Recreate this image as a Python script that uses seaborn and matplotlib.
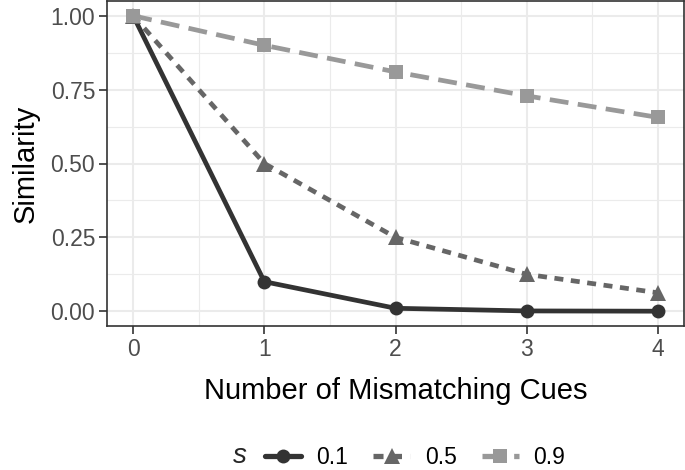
import numpy as np
import pandas as pd
import matplotlib
matplotlib.use("Agg")
import matplotlib.pyplot as plt
import seaborn as sns
from matplotlib.ticker import MultipleLocator

# ---- data ----
mismatches = [0, 1, 2, 3, 4]
s_levels = ["0.1", "0.5", "0.9"]
sim_01 = [1.0, 0.10, 0.01, 0.001, 0.0001]
sim_05 = [1.0, 0.50, 0.25, 0.125, 0.0625]
sim_09 = [1.0, 0.90, 0.81, 0.729, 0.6561]
x_ticks = [0, 1, 2, 3, 4]
y_ticks = [0.00, 0.25, 0.50, 0.75, 1.00]
y_tick_labels = ["0.00", "0.25", "0.50", "0.75", "1.00"]

df = pd.DataFrame({
    "k": mismatches * 3,
    "sim": sim_01 + sim_05 + sim_09,
    "s": [s_levels[0]] * 5 + [s_levels[1]] * 5 + [s_levels[2]] * 5,
})

sns.set_theme(style="white")
plt.rcParams["font.family"] = ["Liberation Sans", "DejaVu Sans"]

fig = plt.figure(figsize=(6.85, 4.70), dpi=100)
ax = fig.add_axes([107 / 685, 1 - 326 / 470, 577 / 685, 325 / 470])

palette = {"0.1": "#333333", "0.5": "#666666", "0.9": "#999999"}
markers = {"0.1": "o", "0.5": "^", "0.9": "s"}
dashes = {"0.1": "", "0.5": (1.9, 1.6), "0.9": (4, 2)}

sns.lineplot(data=df, x="k", y="sim", hue="s", style="s",
             hue_order=s_levels, style_order=s_levels,
             palette=palette, markers=markers, dashes=dashes,
             linewidth=3.4, markersize=10, markeredgewidth=0, ax=ax)

msize = {"o": 10, "^": 12, "s": 10.5}
for ln in ax.lines:
    m = ln.get_marker()
    if m in msize:
        ln.set_markersize(msize[m])

ax.set_xlim(-0.2, 4.2)
ax.set_ylim(-0.05, 1.05)
ax.set_xticks(x_ticks)
ax.set_yticks(y_ticks)
ax.set_yticklabels(y_tick_labels)
ax.xaxis.set_minor_locator(MultipleLocator(0.5))
ax.yaxis.set_minor_locator(MultipleLocator(0.125))
ax.grid(True, which="major", color="#EBEBEB", linewidth=1.5)
ax.grid(True, which="minor", color="#EBEBEB", linewidth=0.8)
ax.set_axisbelow(True)
ax.tick_params(which="major", length=5.5, width=1.2, color="#333333",
               labelsize=16.5, labelcolor="#4D4D4D", pad=3, bottom=True, left=True)
ax.tick_params(which="minor", length=0)
for sp in ax.spines.values():
    sp.set_color("#333333")
    sp.set_linewidth(1.2)

ax.set_xlabel("Number of Mismatching Cues", fontsize=21, color="black", labelpad=12)
ax.set_ylabel("Similarity", fontsize=21, color="black", labelpad=8)

handles, labels = ax.get_legend_handles_labels()
if ax.get_legend() is not None:
    ax.get_legend().remove()
pairs = [(h, l) for h, l in zip(handles, labels) if l in s_levels]
for h, l in pairs:
    if hasattr(h, "set_markeredgewidth"):
        h.set_markeredgewidth(0)
        h.set_linewidth(3.8)
        mk = h.get_marker()
        if mk in msize:
            h.set_markersize(msize[mk])
leg = fig.legend([p[0] for p in pairs], [p[1] for p in pairs], ncol=3,
                 loc="center", bbox_to_anchor=(415 / 685, 1 - 458 / 470),
                 frameon=False, fontsize=16.5, handlelength=1.6,
                 handletextpad=0.65, columnspacing=1.1, borderpad=0)
for t in leg.get_texts():
    t.set_color("black")
fig.text(240 / 685, 1 - 456 / 470, "s", fontsize=20, fontstyle="italic",
         ha="center", va="center")

fig.savefig("out.png", dpi=100)
